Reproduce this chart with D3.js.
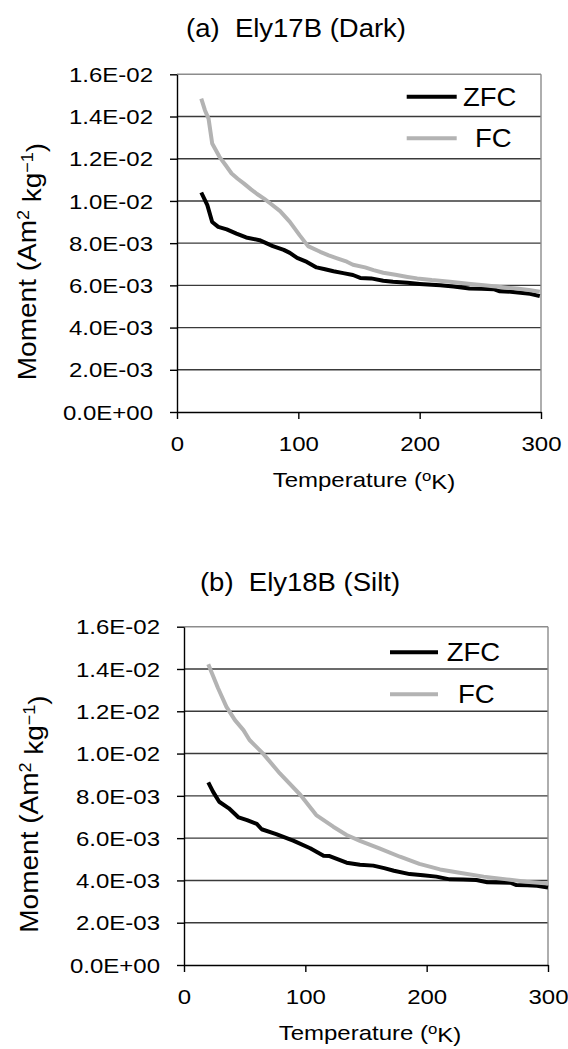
<!DOCTYPE html>
<html>
<head>
<meta charset="utf-8">
<script src="https://cdn.jsdelivr.net/npm/d3@7"></script>
<style>
  body { margin: 0; background: #fff; }
  text { font-family: "Liberation Sans", Arial, sans-serif; fill: #000; }
</style>
</head>
<body>
<svg id="chart" width="568" height="1049"></svg>
<script>
// axis ticks
const xTickValues = [0, 100, 200, 300]
const yTickValues = [0, 0.002, 0.004, 0.006, 0.008, 0.01, 0.012, 0.014, 0.016]
const yTickLabels = ['0.0E+00', '2.0E-03', '4.0E-03', '6.0E-03', '8.0E-03', '1.0E-02', '1.2E-02', '1.4E-02', '1.6E-02']
const seriesNames = ['ZFC', 'FC']

// (a) Ely17B (Dark)
const ely17ZfcTemp = [20, 25, 29, 34, 41, 49, 57, 68, 79, 88, 93, 99, 107, 115, 122, 129, 137, 145, 151, 160, 170, 178, 190, 200, 210, 217, 228, 241, 251, 261, 266, 275, 283, 291, 299]
const ely17ZfcMoment = [0.0104, 0.0098, 0.0090, 0.00877, 0.00865, 0.00845, 0.00827, 0.00814, 0.00786, 0.00768, 0.00754, 0.0073, 0.00711, 0.00685, 0.00676, 0.00667, 0.00658, 0.00649, 0.00635, 0.00633, 0.00622, 0.00617, 0.00612, 0.00607, 0.00603, 0.00601, 0.00595, 0.00585, 0.00584, 0.00582, 0.00572, 0.0057, 0.00565, 0.0056, 0.00549]
const ely17FcTemp = [20, 23, 26, 29, 35, 40, 45, 50, 55, 61, 66, 72, 77, 85, 93, 101, 108, 118, 125, 132, 140, 145, 155, 162, 170, 180, 190, 198, 210, 225, 240, 253, 265, 280, 290, 299]
const ely17FcMoment = [0.01485, 0.0143, 0.0139, 0.01272, 0.01209, 0.0117, 0.0113, 0.01105, 0.01083, 0.01055, 0.01033, 0.0101, 0.00988, 0.00952, 0.00901, 0.00838, 0.00786, 0.00759, 0.00742, 0.00728, 0.00712, 0.00698, 0.00685, 0.00672, 0.0066, 0.0065, 0.0064, 0.00633, 0.00625, 0.00617, 0.00608, 0.00601, 0.00593, 0.00585, 0.00578, 0.0057]

// (b) Ely18B (Silt)
const ely18ZfcTemp = [20, 24, 29, 37, 45, 52, 60, 64, 76, 90, 104, 115, 120, 134, 145, 156, 165, 173, 186, 197, 208, 219, 230, 241, 250, 260, 269, 274, 283, 291, 300]
const ely18ZfcMoment = [0.00864, 0.00819, 0.00772, 0.00741, 0.00698, 0.00685, 0.00667, 0.00642, 0.00619, 0.00588, 0.00552, 0.00517, 0.00515, 0.00484, 0.00474, 0.0047, 0.00458, 0.00446, 0.0043, 0.00424, 0.00418, 0.00405, 0.00404, 0.00402, 0.00391, 0.0039, 0.00389, 0.00378, 0.00377, 0.00375, 0.00367]
const ely18FcTemp = [20, 28, 35, 42, 49, 54, 65, 79, 96, 109, 123, 134, 145, 161, 178, 194, 211, 227, 247, 266, 282, 300]
const ely18FcMoment = [0.01422, 0.0131, 0.01221, 0.01158, 0.01111, 0.01064, 0.01001, 0.00906, 0.00804, 0.00709, 0.00654, 0.00615, 0.00587, 0.00552, 0.00512, 0.00478, 0.00452, 0.00436, 0.00418, 0.00405, 0.00394, 0.00386]

const colors = ['#000000', '#b3b3b3']
const stretch = 1.2 // the source picture is a little wider than tall

const svg = d3.select('#chart')
svg.append('rect').attr('width', 568).attr('height', 1049).attr('fill', '#fff')

const panels = [
  {
    title: '(a)\u00a0\u00a0Ely17B (Dark)', titleX: 296, titleY: 37,
    left: 177, right: 541, top: 74.3, bottom: 412,
    legendX: 406.7, legendY: 96.7, legendLen: 50, legendGap: 41.6,
    textX: [463, 475],
    ylabelX: 27, ylabelY: 261.5, xlabelX: 364,
    series: [
      { temp: ely17ZfcTemp, moment: ely17ZfcMoment },
      { temp: ely17FcTemp, moment: ely17FcMoment },
    ],
  },
  {
    title: '(b)\u00a0\u00a0Ely18B (Silt)', titleX: 300, titleY: 591,
    left: 184, right: 548, top: 626.7, bottom: 965,
    legendX: 390, legendY: 652.3, legendLen: 48, legendGap: 42,
    textX: [446.7, 458],
    ylabelX: 29, ylabelY: 814, xlabelX: 370,
    series: [
      { temp: ely18ZfcTemp, moment: ely18ZfcMoment },
      { temp: ely18FcTemp, moment: ely18FcMoment },
    ],
  },
]

panels.forEach(p => {
  const x = d3.scaleLinear().domain([0, 300]).range([p.left, p.right])
  const y = d3.scaleLinear().domain([0, 0.016]).range([p.bottom, p.top])

  // title
  svg.append('text')
    .attr('transform', `translate(${p.titleX}, ${p.titleY}) scale(1.1, 1)`)
    .attr('text-anchor', 'middle')
    .style('font-size', '25px')
    .text(p.title)

  // grid lines
  svg.append('g')
    .selectAll('line')
    .data(yTickValues.slice(1))
    .enter()
    .append('line')
    .attr('x1', p.left)
    .attr('x2', p.right)
    .attr('y1', d => y(d))
    .attr('y2', d => y(d))
    .attr('stroke', (d, i) => i === yTickValues.length - 2 ? '#8c8c8c' : '#3a3a3a')
    .attr('stroke-width', 1.4)

  // right border
  svg.append('line')
    .attr('x1', p.right).attr('x2', p.right)
    .attr('y1', p.top).attr('y2', p.bottom)
    .attr('stroke', '#8c8c8c').attr('stroke-width', 1.4)

  // y axis
  const yAxis = svg.append('g')
    .attr('transform', `translate(${p.left}, 0)`)
    .call(d3.axisLeft(y).tickValues(yTickValues).tickFormat((d, i) => yTickLabels[i]).tickSize(7).tickSizeOuter(0))
  yAxis.select('.domain').attr('stroke', '#000').attr('stroke-width', 1.4)
  yAxis.selectAll('.tick line').attr('stroke', '#000').attr('stroke-width', 1.4)
  yAxis.selectAll('.tick text')
    .attr('x', -24 / stretch)
    .attr('dy', '0.36em')
    .attr('transform', `scale(${stretch}, 1)`)
    .style('font-size', '20px')
    .attr('font-family', null)

  // x axis
  const xAxis = svg.append('g')
    .attr('transform', `translate(0, ${p.bottom})`)
    .call(d3.axisBottom(x).tickValues(xTickValues).tickFormat(d3.format('d')).tickSize(7).tickSizeOuter(0))
  xAxis.select('.domain').attr('stroke', '#000').attr('stroke-width', 1.4)
  xAxis.selectAll('.tick line').attr('stroke', '#000').attr('stroke-width', 1.4)
  xAxis.selectAll('.tick text')
    .attr('y', 39)
    .attr('dy', 0)
    .attr('transform', `scale(${stretch}, 1)`)
    .style('font-size', '20px')
    .attr('font-family', null)

  // series lines
  const line = d3.line()
    .x(d => x(d[0]))
    .y(d => y(d[1]))

  p.series.forEach((s, i) => {
    svg.append('path')
      .datum(d3.zip(s.temp, s.moment))
      .attr('fill', 'none')
      .attr('stroke', colors[i])
      .attr('stroke-width', 4)
      .attr('stroke-linejoin', 'round')
      .attr('d', line)
  })

  // legend
  seriesNames.forEach((name, i) => {
    const ly = p.legendY + i * p.legendGap
    svg.append('line')
      .attr('x1', p.legendX).attr('x2', p.legendX + p.legendLen)
      .attr('y1', ly).attr('y2', ly)
      .attr('stroke', colors[i]).attr('stroke-width', 4)
    svg.append('text')
      .attr('transform', `translate(${p.textX[i]}, ${ly + 9}) scale(1.1, 1)`)
      .style('font-size', '25px')
      .text(name)
  })

  // y label
  const yl = svg.append('text')
    .attr('transform', `translate(${p.ylabelX}, ${p.ylabelY}) scale(0.95, 1) rotate(-90)`)
    .attr('text-anchor', 'middle')
    .attr('dy', '0.35em')
    .style('font-size', '28px')
  yl.append('tspan').text('Moment (Am')
  yl.append('tspan').attr('dy', '-0.45em').style('font-size', '18px').text('2')
  yl.append('tspan').attr('dy', '0.45em').text(' kg')
  yl.append('tspan').attr('dy', '-0.45em').style('font-size', '18px').text('\u22121')
  yl.append('tspan').attr('dy', '0.45em').text(')')

  // x label
  const xl = svg.append('text')
    .attr('transform', `translate(${p.xlabelX}, ${p.bottom + 75}) scale(${stretch}, 1)`)
    .attr('text-anchor', 'middle')
    .style('font-size', '20px')
  xl.append('tspan').text('Temperature (')
  xl.append('tspan').attr('dy', '-0.4em').style('font-size', '14px').text('o')
  xl.append('tspan').attr('dy', '0.4em').text('K)')
})
</script>
</body>
</html>
